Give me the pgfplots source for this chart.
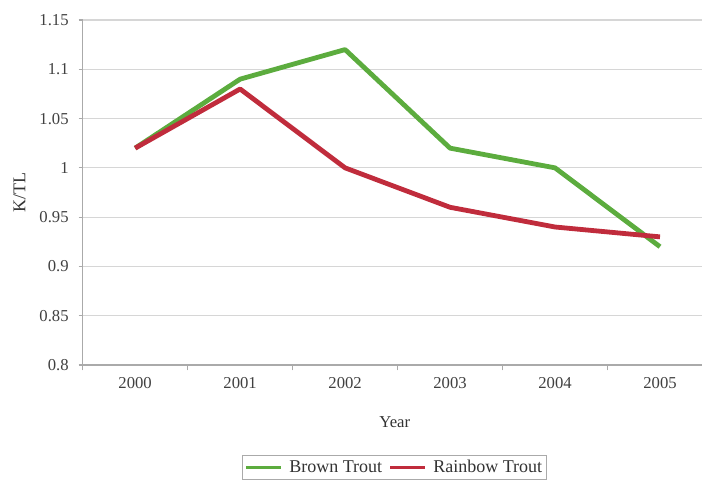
\documentclass[border=0pt]{standalone}
\usepackage{pgfplots}
\pgfplotsset{compat=1.18}
\usepackage{fontspec}
\setmainfont{Liberation Serif}

\definecolor{browngreen}{RGB}{92,172,62}
\definecolor{rainbowred}{RGB}{192,44,60}
\definecolor{gridgray}{RGB}{214,214,214}
\definecolor{axisgray}{RGB}{170,170,170}

\begin{document}
\begin{tikzpicture}
\useasboundingbox (0,0) rectangle (526.5pt,362.25pt);
\begin{axis}[
  at={(62pt,88.5pt)}, anchor=south west,
  scale only axis,
  width=464.5pt, height=258.75pt,
  /pgf/number format/assume math mode=true,
  font=\fontsize{12.5}{14}\selectfont,
  xmin=-0.5, xmax=5.4,
  ymin=0.8, ymax=1.15,
  xtick={0,1,2,3,4,5},
  xticklabels={2000,2001,2002,2003,2004,2005},
  minor xtick={-0.5,0.5,1.5,2.5,3.5,4.5},
  ytick={0.8,0.85,0.9,0.95,1,1.05,1.1,1.15},
  yticklabels={0.8,0.85,0.9,0.95,1,1.05,1.1,1.15},
  axis lines=left,
  axis line style={-, draw=axisgray, line width=0.8pt},
  ymajorgrids,
  grid style={draw=gridgray, line width=0.8pt},
  tick align=outside,
  tick style={draw=axisgray, line width=0.8pt},
  major tick length=3pt,
  minor tick length=4pt,
  every major x tick/.append style={draw=none},
  xticklabel style={yshift=-3pt, text=black!75},
  yticklabel style={xshift=-4pt, text=black!75},
  xlabel={Year},
  xlabel style={at={(axis description cs:0.504,-0.165)}, anchor=center, text=black!80},
  ylabel={K/TL},
  ylabel style={at={(axis description cs:-0.102,0.5)}, anchor=center, text=black!80,
    font=\fontsize{13.5}{15}\selectfont},
  legend columns=2,
  legend style={at={(axis description cs:0.504,-0.296)}, anchor=center,
    draw=axisgray, line width=0.6pt, font=\fontsize{13.5}{15}\selectfont,
    inner sep=1.5pt, column sep=3pt, text=black!80},
  legend image code/.code={\draw[#1, line width=2.4pt] (0pt,0pt) -- (26pt,0pt);},
]
\addplot[browngreen, line width=3.6pt, line join=round] coordinates {
  (0,1.02) (1,1.09) (2,1.12) (3,1.02) (4,1.00) (5,0.92)
};
\addlegendentry{Brown Trout}
\addplot[rainbowred, line width=3.6pt, line join=round] coordinates {
  (0,1.02) (1,1.08) (2,1.00) (3,0.96) (4,0.94) (5,0.93)
};
\addlegendentry{Rainbow Trout}
\end{axis}
\end{tikzpicture}
\end{document}
